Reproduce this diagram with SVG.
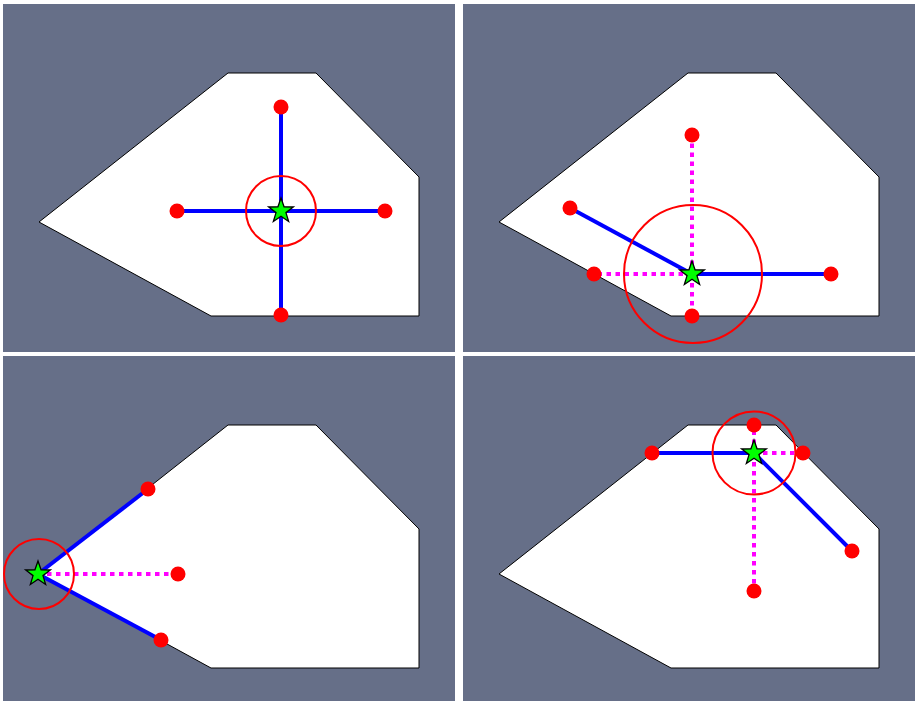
<svg xmlns="http://www.w3.org/2000/svg" width="915" height="701" viewBox="0 0 915 701">
<style>
.bg{fill:#666f88}
.poly{fill:#fff;stroke:#000;stroke-width:1}
.solid{stroke:#0000ff;stroke-width:4;fill:none}
.dot{stroke:#ff00ff;stroke-width:4;stroke-dasharray:4.5,4.5;fill:none}
.pt{fill:#ff0000}
.ring{fill:none;stroke:#ff0000;stroke-width:2}
.star{fill:#00ff00;stroke:#000;stroke-width:1.3;stroke-linejoin:miter}
</style>
<defs>
<polygon id="shape" points="225,69 313,69 416,173 416,312 208,312 36,218"/>
<path id="st" d="M0,-13 L3.06,-4.21 L12.36,-4.02 L4.95,1.61 L7.64,10.52 L0,5.2 L-7.64,10.52 L-4.95,1.61 L-12.36,-4.02 L-3.06,-4.21 Z"/>
</defs>
<rect width="915" height="701" fill="#fff"/>
<g id="panel-tl">
<rect class="bg" x="3" y="4" width="452" height="348"/>
<use href="#shape" class="poly" transform="translate(3,4)"/>
</g>
<g id="panel-tr">
<rect class="bg" x="463" y="4" width="452" height="348"/>
<use href="#shape" class="poly" transform="translate(463,4)"/>
</g>
<g id="panel-bl">
<rect class="bg" x="3" y="356" width="452" height="345"/>
<use href="#shape" class="poly" transform="translate(3,356)"/>
</g>
<g id="panel-br">
<rect class="bg" x="463" y="356" width="452" height="345"/>
<use href="#shape" class="poly" transform="translate(463,356)"/>
</g>
<g id="connectors">
<line class="solid" x1="281" y1="211" x2="281" y2="107"/>
<line class="solid" x1="281" y1="211" x2="177" y2="211"/>
<line class="solid" x1="281" y1="211" x2="385" y2="211"/>
<line class="solid" x1="281" y1="211" x2="281" y2="315"/>
<line class="dot" x1="692" y1="274" x2="692" y2="135"/>
<line class="dot" x1="692" y1="274" x2="594" y2="274"/>
<line class="dot" x1="692" y1="274" x2="692" y2="316"/>
<line class="solid" x1="692" y1="274" x2="570" y2="208"/>
<line class="solid" x1="692" y1="274" x2="831" y2="274"/>
<line class="solid" x1="38" y1="574" x2="148" y2="489"/>
<line class="solid" x1="38" y1="574" x2="161" y2="640"/>
<line class="dot" x1="38" y1="574" x2="178" y2="574"/>
<line class="dot" x1="754" y1="453" x2="754" y2="425"/>
<line class="dot" x1="754" y1="453" x2="803" y2="453"/>
<line class="dot" x1="754" y1="453" x2="754" y2="591"/>
<line class="solid" x1="754" y1="453" x2="652" y2="453"/>
<line class="solid" x1="754" y1="453" x2="852" y2="551"/>
</g>
<g id="rings">
<circle class="ring" cx="281" cy="211" r="35"/>
<circle class="ring" cx="693" cy="274" r="69"/>
<circle class="ring" cx="39" cy="574" r="35"/>
<circle class="ring" cx="754" cy="453" r="41.5"/>
</g>
<g id="points">
<circle class="pt" cx="281" cy="107" r="7.5"/>
<circle class="pt" cx="177" cy="211" r="7.5"/>
<circle class="pt" cx="385" cy="211" r="7.5"/>
<circle class="pt" cx="281" cy="315" r="7.5"/>
<circle class="pt" cx="692" cy="135" r="7.5"/>
<circle class="pt" cx="570" cy="208" r="7.5"/>
<circle class="pt" cx="594" cy="274" r="7.5"/>
<circle class="pt" cx="831" cy="274" r="7.5"/>
<circle class="pt" cx="692" cy="316" r="7.5"/>
<circle class="pt" cx="148" cy="489" r="7.5"/>
<circle class="pt" cx="178" cy="574" r="7.5"/>
<circle class="pt" cx="161" cy="640" r="7.5"/>
<circle class="pt" cx="754" cy="425" r="7.5"/>
<circle class="pt" cx="652" cy="453" r="7.5"/>
<circle class="pt" cx="803" cy="453" r="7.5"/>
<circle class="pt" cx="852" cy="551" r="7.5"/>
<circle class="pt" cx="754" cy="591" r="7.5"/>
</g>
<g id="stars">
<use href="#st" class="star" transform="translate(281,211)"/>
<use href="#st" class="star" transform="translate(692,274)"/>
<use href="#st" class="star" transform="translate(38,574)"/>
<use href="#st" class="star" transform="translate(754,453)"/>
</g>
</svg>
